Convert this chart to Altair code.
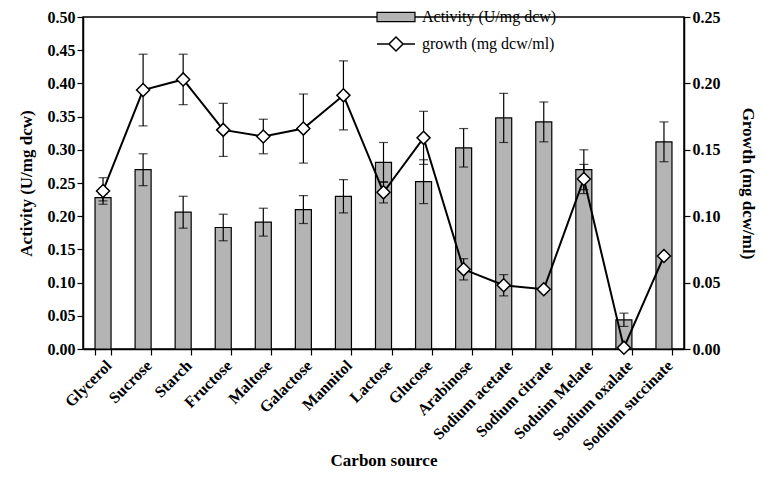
import altair as alt
import pandas as pd

categories = ["Glycerol", "Sucrose", "Starch", "Fructose", "Maltose", "Galactose",
              "Mannitol", "Lactose", "Glucose", "Arabinose", "Sodium acetate",
              "Sodium citrate", "Soduim Melate", "Sodium oxalate", "Sodium succinate"]
activity = [0.228, 0.270, 0.206, 0.183, 0.191, 0.210, 0.230, 0.281, 0.252, 0.303,
            0.348, 0.342, 0.270, 0.044, 0.312]
activity_err = [0.005, 0.024, 0.024, 0.020, 0.021, 0.021, 0.025, 0.030, 0.033, 0.029,
                0.037, 0.030, 0.030, 0.010, 0.030]
growth = [0.119, 0.195, 0.203, 0.165, 0.160, 0.166, 0.191, 0.118, 0.159, 0.060,
          0.048, 0.045, 0.128, 0.001, 0.070]
growth_err = [0.010, 0.027, 0.019, 0.020, 0.013, 0.026, 0.026, 0.008, 0.020, 0.008,
              0.008, 0.000, 0.011, 0.000, 0.000]
left_ticks = [0.0, 0.05, 0.10, 0.15, 0.20, 0.25, 0.30, 0.35, 0.40, 0.45, 0.50]
right_ticks = [0.0, 0.05, 0.10, 0.15, 0.20, 0.25]

df = pd.DataFrame({
    "source": categories,
    "activity": activity,
    "a_lo": [a - e for a, e in zip(activity, activity_err)],
    "a_hi": [a + e for a, e in zip(activity, activity_err)],
    "growth": growth,
    "g_lo": [g - e for g, e in zip(growth, growth_err)],
    "g_hi": [g + e for g, e in zip(growth, growth_err)],
    "s1": "Activity (U/mg dcw)",
    "s2": "growth (mg dcw/ml)",
})
gdf = df[[e > 0 for e in growth_err]]

FONT = "Liberation Serif"

x = alt.X("source:N", sort=categories,
          scale=alt.Scale(paddingInner=0.6, paddingOuter=0.3),
          axis=alt.Axis(title="Carbon source", labelAngle=-45, tickBand="extent",
                        labelFontSize=16, titleFontSize=17, titlePadding=0,
                        labelPadding=2))

yscale1 = alt.Scale(domain=[0, 0.5], nice=False)
yscale2 = alt.Scale(domain=[0, 0.25], nice=False)
axis1 = alt.Axis(title="Activity (U/mg dcw)", orient="left", values=left_ticks,
                 format=".2f", titlePadding=12, labelFontSize=16)
axis2 = alt.Axis(title="Growth (mg dcw/ml)", orient="right", values=right_ticks,
                 format=".2f", titlePadding=18, labelFontSize=16)

bars = alt.Chart(df).mark_bar(stroke="black", strokeWidth=1.2).encode(
    x=x,
    y=alt.Y("activity:Q", scale=yscale1, axis=axis1),
    fill=alt.Fill("s1:N", scale=alt.Scale(domain=["Activity (U/mg dcw)"], range=["#b4b4b4"]),
                  legend=alt.Legend(title=None, orient="none", legendX=293, legendY=-20,
                                    symbolType="M-1,-0.24H1V0.24H-1Z", symbolSize=1444,
                                    symbolStrokeColor="black", symbolStrokeWidth=1.2,
                                    labelFont=FONT, labelFontSize=16, labelFontWeight="normal",
                                    labelColor="black", labelOffset=6)),
)
a_rule = alt.Chart(df).mark_rule(color="black", strokeWidth=1.2).encode(
    x=alt.X("source:N", sort=categories),
    y=alt.Y("a_lo:Q", scale=yscale1, axis=axis1), y2="a_hi:Q")
a_cap_hi = alt.Chart(df).mark_tick(color="black", size=9, thickness=1.2).encode(
    x=alt.X("source:N", sort=categories), y=alt.Y("a_hi:Q", scale=yscale1, axis=axis1))
a_cap_lo = alt.Chart(df).mark_tick(color="black", size=9, thickness=1.2).encode(
    x=alt.X("source:N", sort=categories), y=alt.Y("a_lo:Q", scale=yscale1, axis=axis1))

left = alt.layer(bars, a_rule, a_cap_hi, a_cap_lo)

line = alt.Chart(df).mark_line(strokeWidth=2).encode(
    x=alt.X("source:N", sort=categories),
    y=alt.Y("growth:Q", scale=yscale2, axis=axis2),
    stroke=alt.Stroke("s2:N", scale=alt.Scale(domain=["growth (mg dcw/ml)"], range=["black"]),
                      legend=alt.Legend(title=None, orient="none", legendX=293, legendY=7,
                                        symbolType="M-1,0H-0.37M0.37,0H1M0,-0.37L0.37,0L0,0.37L-0.37,0Z",
                                        symbolSize=1444, symbolFillColor="white",
                                        symbolStrokeColor="black", symbolStrokeWidth=1.5,
                                        labelFont=FONT, labelFontSize=16, labelFontWeight="normal",
                                        labelColor="black", labelOffset=6)),
)
g_rule = alt.Chart(gdf).mark_rule(color="black", strokeWidth=1.2).encode(
    x=alt.X("source:N", sort=categories),
    y=alt.Y("g_lo:Q", scale=yscale2, axis=axis2), y2="g_hi:Q")
g_cap_hi = alt.Chart(gdf).mark_tick(color="black", size=9, thickness=1.2).encode(
    x=alt.X("source:N", sort=categories), y=alt.Y("g_hi:Q", scale=yscale2, axis=axis2))
g_cap_lo = alt.Chart(gdf).mark_tick(color="black", size=9, thickness=1.2).encode(
    x=alt.X("source:N", sort=categories), y=alt.Y("g_lo:Q", scale=yscale2, axis=axis2))
pts = alt.Chart(df).mark_point(shape="diamond", filled=True, fill="white", stroke="black",
                               strokeWidth=1.5, size=170, opacity=1).encode(
    x=alt.X("source:N", sort=categories),
    y=alt.Y("growth:Q", scale=yscale2, axis=axis2))

right = alt.layer(line, g_rule, g_cap_hi, g_cap_lo, pts)

chart = alt.layer(left, right).resolve_scale(y="independent").properties(
    width=601, height=332,
    autosize=alt.AutoSizeParams(type="none"),
    padding={"left": 75, "top": 9, "right": 73, "bottom": 120},
).configure_view(stroke="black", strokeWidth=1.5).configure_axis(
    labelFont=FONT, titleFont=FONT, labelFontWeight="bold", titleFontWeight="bold",
    labelFontSize=15, titleFontSize=17, labelColor="black", titleColor="black",
    domainColor="black", tickColor="black", domainWidth=1.5, tickWidth=1.2, tickSize=6,
    grid=False,
)

chart.save("out.html", embed_options={"renderer": "svg", "actions": False})
